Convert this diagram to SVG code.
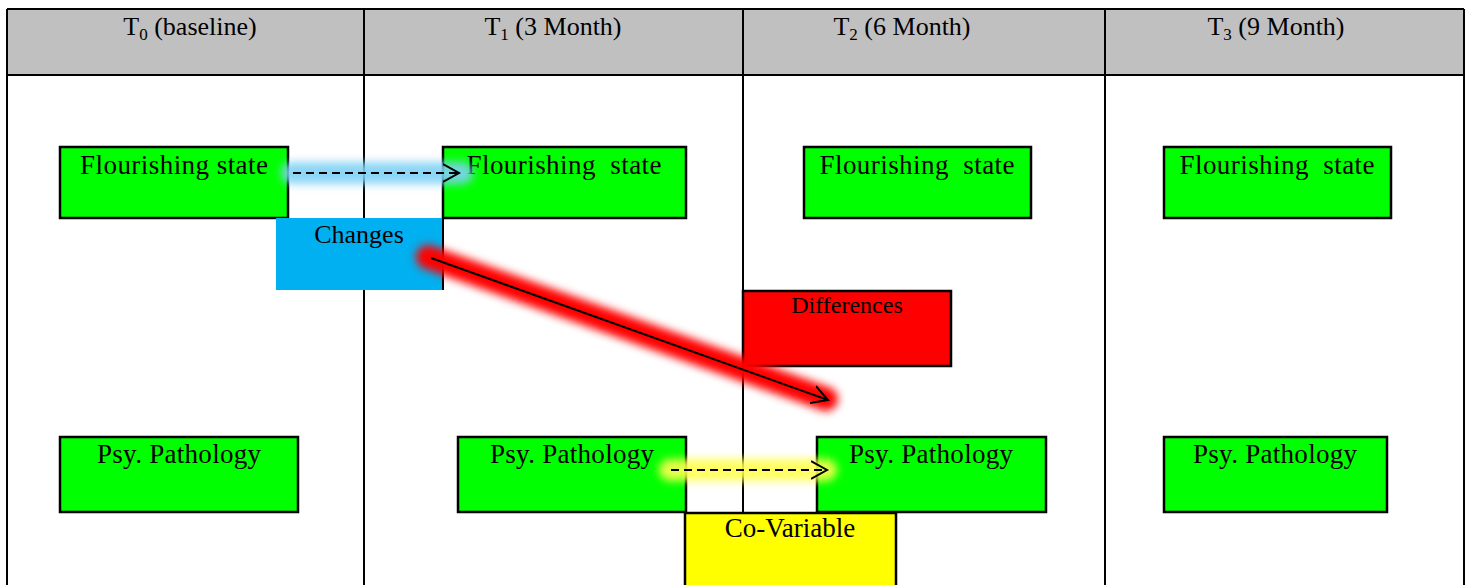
<svg xmlns="http://www.w3.org/2000/svg" width="1469" height="585" viewBox="0 0 1469 585">
<style>
.c{font-family:"Liberation Serif","Times New Roman",serif;fill:#000}
.hd{font-size:26px;text-anchor:middle}
.bx{stroke:#000;stroke-width:2.5}
.g{fill:#00ff00}
.lbl{font-size:27px;text-anchor:middle}
.tm{font-size:26px;text-anchor:middle}
.ln{stroke:#000;stroke-width:2;fill:none}
.ar{stroke:#000;stroke-width:2;fill:none}
</style>
<defs>
<filter id="blur" x="-20%" y="-50%" width="140%" height="200%"><feGaussianBlur stdDeviation="4.5"/></filter>
<marker id="open" markerWidth="20" markerHeight="20" refX="16" refY="10" orient="auto" markerUnits="userSpaceOnUse">
<path d="M0,1 L16,10 L0,19" fill="none" stroke="#000" stroke-width="2"/>
</marker>
</defs>
<rect width="1469" height="585" fill="#fff"/>
<g id="table">
<rect x="7" y="9" width="1457" height="66" fill="#c0c0c0"/>
<path class="ln" d="M7,9 H1464 M7,75 H1464 M7,9 V585 M1464,9 V585 M364,9 V585 M743,9 V585 M1105,9 V585"/>
<text class="c hd" x="190" y="35">T<tspan font-size="17" dy="5">0</tspan><tspan dy="-5"> (baseline)</tspan></text>
<text class="c hd" x="553" y="35">T<tspan font-size="17" dy="5">1</tspan><tspan dy="-5"> (3 Month)</tspan></text>
<text class="c hd" x="902" y="35">T<tspan font-size="17" dy="5">2</tspan><tspan dy="-5"> (6 Month)</tspan></text>
<text class="c hd" x="1276" y="35">T<tspan font-size="17" dy="5">3</tspan><tspan dy="-5"> (9 Month)</tspan></text>
</g>
<g id="n-f0"><rect class="bx g" x="60" y="147" width="228" height="71"/><text class="c lbl" x="174" y="174" textLength="188" lengthAdjust="spacing">Flourishing state</text></g>
<g id="n-f1"><rect class="bx g" x="443" y="147" width="243" height="71"/><text class="c lbl" x="564" y="174" textLength="195" lengthAdjust="spacing" xml:space="preserve">Flourishing  state</text></g>
<g id="n-f2"><rect class="bx g" x="804" y="147" width="227" height="71"/><text class="c lbl" x="917" y="174" textLength="195" lengthAdjust="spacing" xml:space="preserve">Flourishing  state</text></g>
<g id="n-f3"><rect class="bx g" x="1164" y="147" width="227" height="71"/><text class="c lbl" x="1277" y="174" textLength="195" lengthAdjust="spacing" xml:space="preserve">Flourishing  state</text></g>
<g id="n-changes"><rect x="276" y="218" width="167" height="72" fill="#00b0f0"/><path class="ln" d="M443,218 V290"/><text class="c tm" x="359" y="243">Changes</text></g>
<g id="n-diff"><rect class="bx" fill="#ff0000" x="743" y="291" width="208" height="75"/><text class="c" font-size="24" text-anchor="middle" x="847" y="313">Differences</text></g>
<g id="n-p0"><rect class="bx g" x="60" y="437" width="238" height="75"/><text class="c lbl" x="179" y="463" textLength="164" lengthAdjust="spacing">Psy. Pathology</text></g>
<g id="n-p1"><rect class="bx g" x="458" y="437" width="228" height="75"/><text class="c lbl" x="572" y="463" textLength="164" lengthAdjust="spacing">Psy. Pathology</text></g>
<g id="n-p2"><rect class="bx g" x="817" y="437" width="229" height="75"/><text class="c lbl" x="931" y="463" textLength="164" lengthAdjust="spacing">Psy. Pathology</text></g>
<g id="n-p3"><rect class="bx g" x="1164" y="437" width="223" height="75"/><text class="c lbl" x="1275" y="463" textLength="164" lengthAdjust="spacing">Psy. Pathology</text></g>
<g id="n-covar"><rect class="bx" fill="#ffff00" x="685" y="513" width="211" height="80"/><text class="c" font-size="27" text-anchor="middle" x="790" y="537">Co-Variable</text></g>
<g id="connectors">
<g filter="url(#blur)" stroke-linecap="round">
<line x1="292" y1="173" x2="462" y2="173" stroke="#80d2f6" stroke-width="22" opacity="0.9"/>
<line x1="428" y1="257" x2="826" y2="399" stroke="#ff0000" stroke-width="24"/>
<line x1="670" y1="470" x2="826" y2="470" stroke="#ffff50" stroke-width="22" opacity="0.9"/>
</g>
<line class="ar" x1="293" y1="173" x2="459" y2="173" stroke-dasharray="8 5" marker-end="url(#open)"/>
<line class="ar" x1="431" y1="258" x2="828" y2="400" marker-end="url(#open)"/>
<line class="ar" x1="671" y1="470" x2="827" y2="470" stroke-dasharray="8 5" marker-end="url(#open)"/>
</g>
</svg>
